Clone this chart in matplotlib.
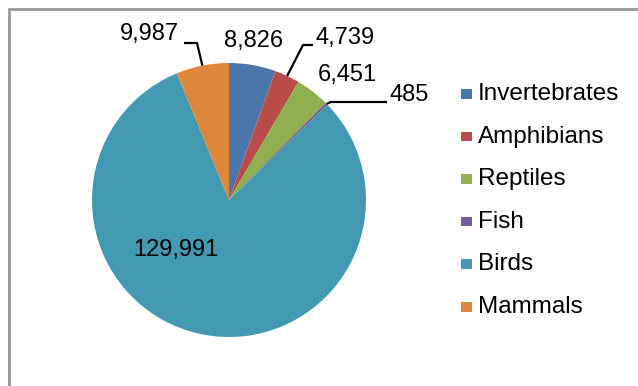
import numpy as np
import matplotlib.pyplot as plt
from matplotlib.patches import Rectangle

plt.rcParams['font.family'] = ['Liberation Sans', 'DejaVu Sans']

groups = ['Invertebrates', 'Amphibians', 'Reptiles', 'Fish', 'Birds', 'Mammals']
counts = [8826, 4739, 6451, 485, 129991, 9987]
colors = ['#4a76ac', '#b94b48', '#8faf50', '#7a5c9c', '#4399b1', '#de863a']

W, H = 638, 386
fig = plt.figure(figsize=(W / 100, H / 100), dpi=100)
ax = fig.add_axes([0, 0, 1, 1])

# chart frame, cut at the right and bottom edges
ax.add_patch(Rectangle((9, -20), W + 20, H - 9 + 20, fill=False,
                       edgecolor='#999999', linewidth=2.0))

cx, cy, r = 229, H - 200, 137
wedges, _ = ax.pie(counts, colors=colors, startangle=90, counterclock=False,
                   center=(cx, cy), radius=r, frame=True,
                   wedgeprops=dict(linewidth=0))
ax.set_xlim(0, W)
ax.set_ylim(0, H)
ax.set_aspect('equal')
ax.axis('off')

def edge_point(i):
    w = wedges[i]
    a = np.deg2rad((w.theta1 + w.theta2) / 2)
    return cx + r * np.cos(a), cy + r * np.sin(a)

fs = 17

# label positions (x, y from top), alignment, leader elbow/end
labels = {
    0: dict(pos=(254, 41), ha='center', line=None),
    1: dict(pos=(315, 38), ha='left', line=[(303, 45), (313, 45)]),
    2: dict(pos=(347, 75), ha='center', line=None),
    3: dict(pos=(389, 95), ha='left', line=[(331, 102), (387, 102)]),
    4: dict(pos=(176, 250), ha='center', line=None),
    5: dict(pos=(179, 34), ha='right', line=[(197, 43), (184, 43)]),
}
for i, spec in labels.items():
    x, y = spec['pos']
    ax.text(x, H - y, f'{counts[i]:,}', ha=spec['ha'], va='center',
            fontsize=fs, color='black')
    if spec['line']:
        sx, sy = edge_point(i)
        pts = [(sx, sy)] + [(px, H - py) for px, py in spec['line']]
        ax.plot([p[0] for p in pts], [p[1] for p in pts], color='black',
                linewidth=1.6, solid_capstyle='butt')

# legend
ly0, dy = 94, 42.6
for k, (g, c) in enumerate(zip(groups, colors)):
    y = H - (ly0 + k * dy)
    ax.add_patch(Rectangle((461, y - 4.5), 11, 9.5, facecolor=c, edgecolor='none'))
    ax.text(478, y, g, ha='left', va='center', fontsize=17.5, color='black')

fig.savefig('out.png', dpi=100)
